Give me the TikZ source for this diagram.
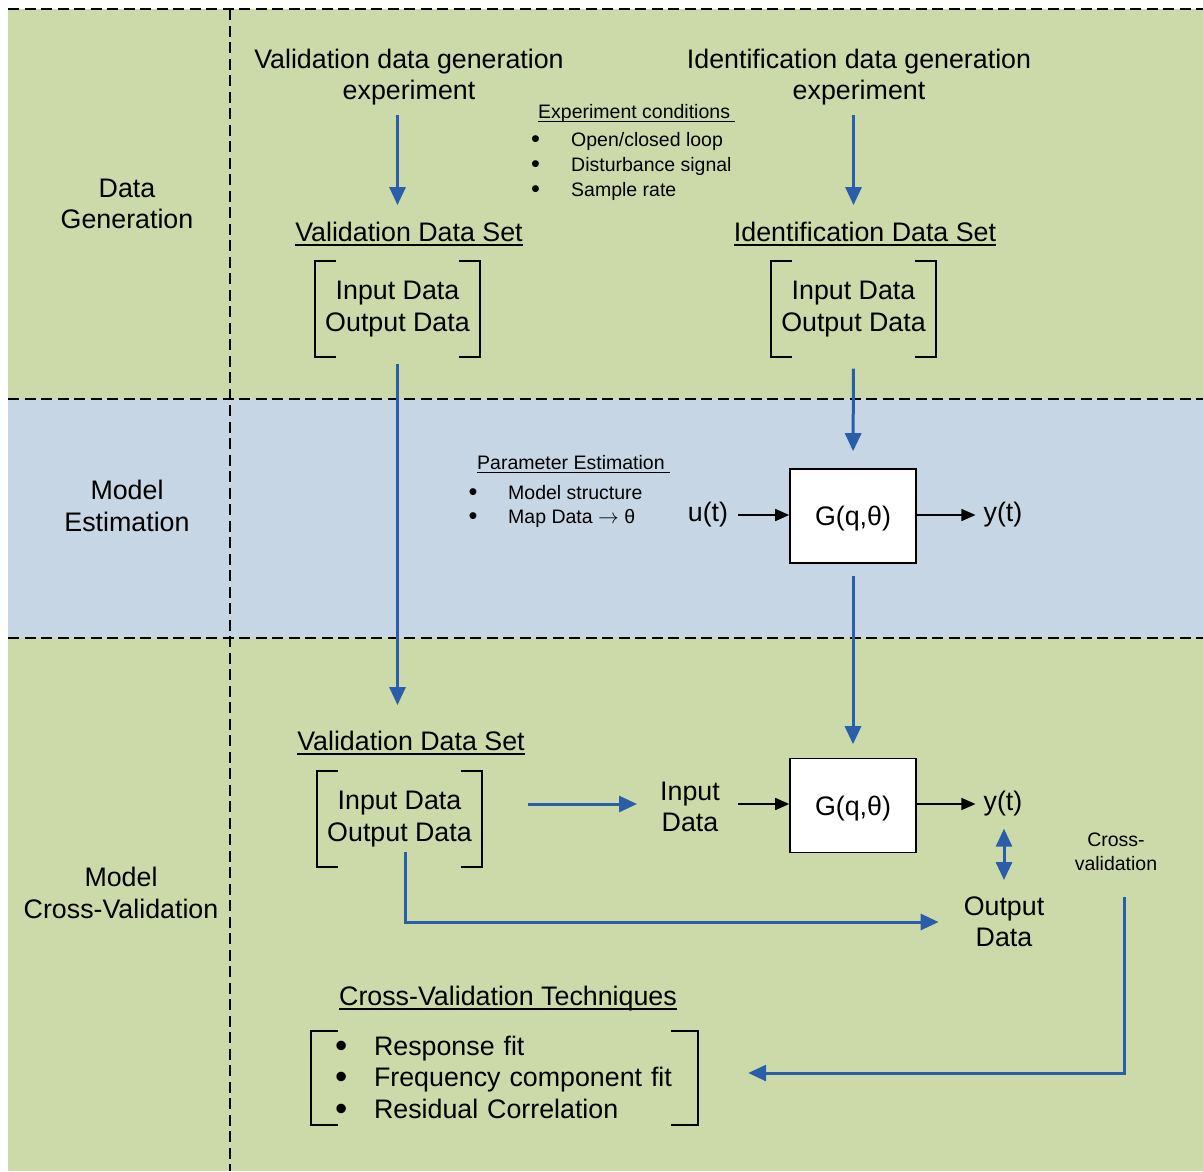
\documentclass[tikz,border=0pt]{standalone}
\usepackage{fontspec}
\setmainfont{Liberation Sans}
\usetikzlibrary{arrows.meta,calc}
\definecolor{bandgreen}{RGB}{204,218,170}
\definecolor{bandblue}{RGB}{198,214,228}
\definecolor{flowblue}{RGB}{43,94,170}
\newcommand{\bul}[1]{\makebox[#1][l]{\raisebox{-0.07em}{\scalebox{1.3}{\textbullet}}}}
\newsavebox{\ulbox}
\newcommand{\ulin}[1]{\sbox\ulbox{#1}\rlap{\rule[-4pt]{\wd\ulbox}{1.5pt}}\usebox\ulbox}

\begin{document}
\begin{tikzpicture}[x=1pt,y=-1pt,
  every node/.style = {inner sep=0pt, align=center,
    font=\fontsize{26.8}{31.5}\selectfont},
  small/.style = {font=\fontsize{19.5}{24.5}\selectfont},
  flow/.style = {draw=flowblue, line width=3pt, -{Triangle[length=18pt,width=16pt]}},
  sig/.style = {draw=black, line width=1.6pt, -{Triangle[length=14pt,width=12pt]}},
  sep/.style = {line width=2.8pt, dash pattern=on 11pt off 5.5pt},
  block/.style = {draw, fill=white, line width=1.6pt, minimum width=126pt, minimum height=94pt,
    text depth=0pt},
  dataset/.style = {minimum width=165pt, minimum height=95pt}]
  \useasboundingbox (0,0) rectangle (1203,1171);

  % bands
  \fill[bandgreen] (8,9) rectangle (1203,1171);
  \fill[bandblue] (8,399) rectangle (1203,638);
  \draw[sep] (8,9) -- (1203,9) (8,399) -- (1203,399) (8,638) -- (1203,638)
    (230,9) -- (230,1171);

  % stage labels
  \node (lblgen) at (127,204) {Data\\Generation};
  \node (lblest) at (127,506) {Model\\Estimation};
  \node (lblcv) at (121,893) {Model\\Cross-Validation};

  % data generation
  \node (vexp) at (409,77) {Validation data generation\\experiment};
  \node (iexp) at (859,77) {Identification data generation\\experiment};
  \node (vhead) at (409,234) {\ulin{Validation Data Set}};
  \node (ihead) at (865,234) {\ulin{Identification Data Set}};
  \node[dataset] (vbox) at (397.5,309) {Input Data\\Output Data};
  \node[dataset] (ibox) at (853.5,309) {Input Data\\Output Data};
  \node[small, anchor=west] (echead) at (538,113) {\ulin{Experiment conditions\ }};
  \node[small, font=\fontsize{19.5}{25}\selectfont, anchor=west, align=left] (eclist) at (531,166)
    {\bul{40pt}Open/closed loop\\\bul{40pt}Disturbance signal\\\bul{40pt}Sample rate};

  % model estimation
  \node[small, anchor=west] (pehead) at (477,464) {\ulin{Parameter Estimation\ }};
  \node[small, font=\fontsize{19.5}{24}\selectfont, anchor=west, align=left] (pelist) at (468.5,506)
    {\bul{39.5pt}Model structure\\\bul{39.5pt}Map Data $\rightarrow$ θ};
  \node (ut) at (708,515) {u(t)};
  \node[block] (g1) at (853,516) {G(q,θ)};
  \node (y1) at (1003,515) {y(t)};

  % cross-validation
  \node (vhead2) at (411,743) {\ulin{Validation Data Set}};
  \node[dataset] (cvbox) at (399.5,819) {Input Data\\Output Data};
  \node (indata) at (690,807) {Input\\Data};
  \node[block] (g2) at (853,805.5) {G(q,θ)};
  \node (y2) at (1003,804) {y(t)};
  \node (outdata) at (1004,922) {Output\\Data};
  \node[small] (cvlbl) at (1116,852) {Cross-\\validation};
  \node (techhead) at (508,999) {\ulin{Cross-Validation Techniques}};
  \node[minimum width=387pt, minimum height=94pt, inner xsep=24pt, text width=339pt,
    align=left] (tech) at (504.5,1078)
    {\bul{39pt}Response fit\\\bul{39pt}Frequency component fit\\\bul{39pt}Residual Correlation};

  % brackets
  \foreach \b/\s in {vbox/21,ibox/21,cvbox/21,tech/27}
    \draw[line width=1.7pt] ([xshift=\s pt]\b.north west) -| (\b.south west) -- ++(\s,0)
      ([xshift=-\s pt]\b.north east) -| (\b.south east) -- ++(-\s,0);

  % connectors
  \draw[flow, shorten <=10pt, shorten >=17pt] (vexp.south -| vbox.center) -- (vhead.north -| vbox.center);
  \draw[flow, shorten <=10pt, shorten >=17pt] (iexp.south -| ibox.center) -- (ihead.north -| ibox.center);
  \draw[flow, shorten <=12pt, shorten >=17pt] (ibox.south) -- (g1.north);
  \draw[flow, shorten <=7pt, shorten >=26pt] (vbox.south) -- (vhead2.north -| vbox.south);
  \draw[flow, shorten <=12pt, shorten >=13.5pt] (g1.south) -- (g2.north);
  \draw[sig, shorten <=9.5pt] (ut.east |- y1) -- (g1.west |- y1);
  \draw[sig, shorten >=8pt] (g1.east |- y1) -- (y1.west);
  \draw[flow, shorten <=46pt, shorten >=23pt] (cvbox.east |- y2) -- (indata.west |- y2);
  \draw[sig, shorten <=18pt] (indata.east |- y2) -- (g2.west |- y2);
  \draw[sig, shorten >=8pt] (g2.east |- y2) -- (y2.west);
  \draw[flow, {Triangle[length=18pt,width=16pt]}-{Triangle[length=18pt,width=16pt]},
    shorten <=12pt, shorten >=16.5pt] (y2.south -| outdata) -- (outdata.north);
  \draw[flow, shorten >=25pt] ($(cvbox.center)+(6,33)$) |- (outdata.west);
  \draw[flow, shorten <=25.5pt, shorten >=50pt] ([xshift=8pt]cvlbl.south) |- ([yshift=5pt]tech.east);
\end{tikzpicture}
\end{document}
